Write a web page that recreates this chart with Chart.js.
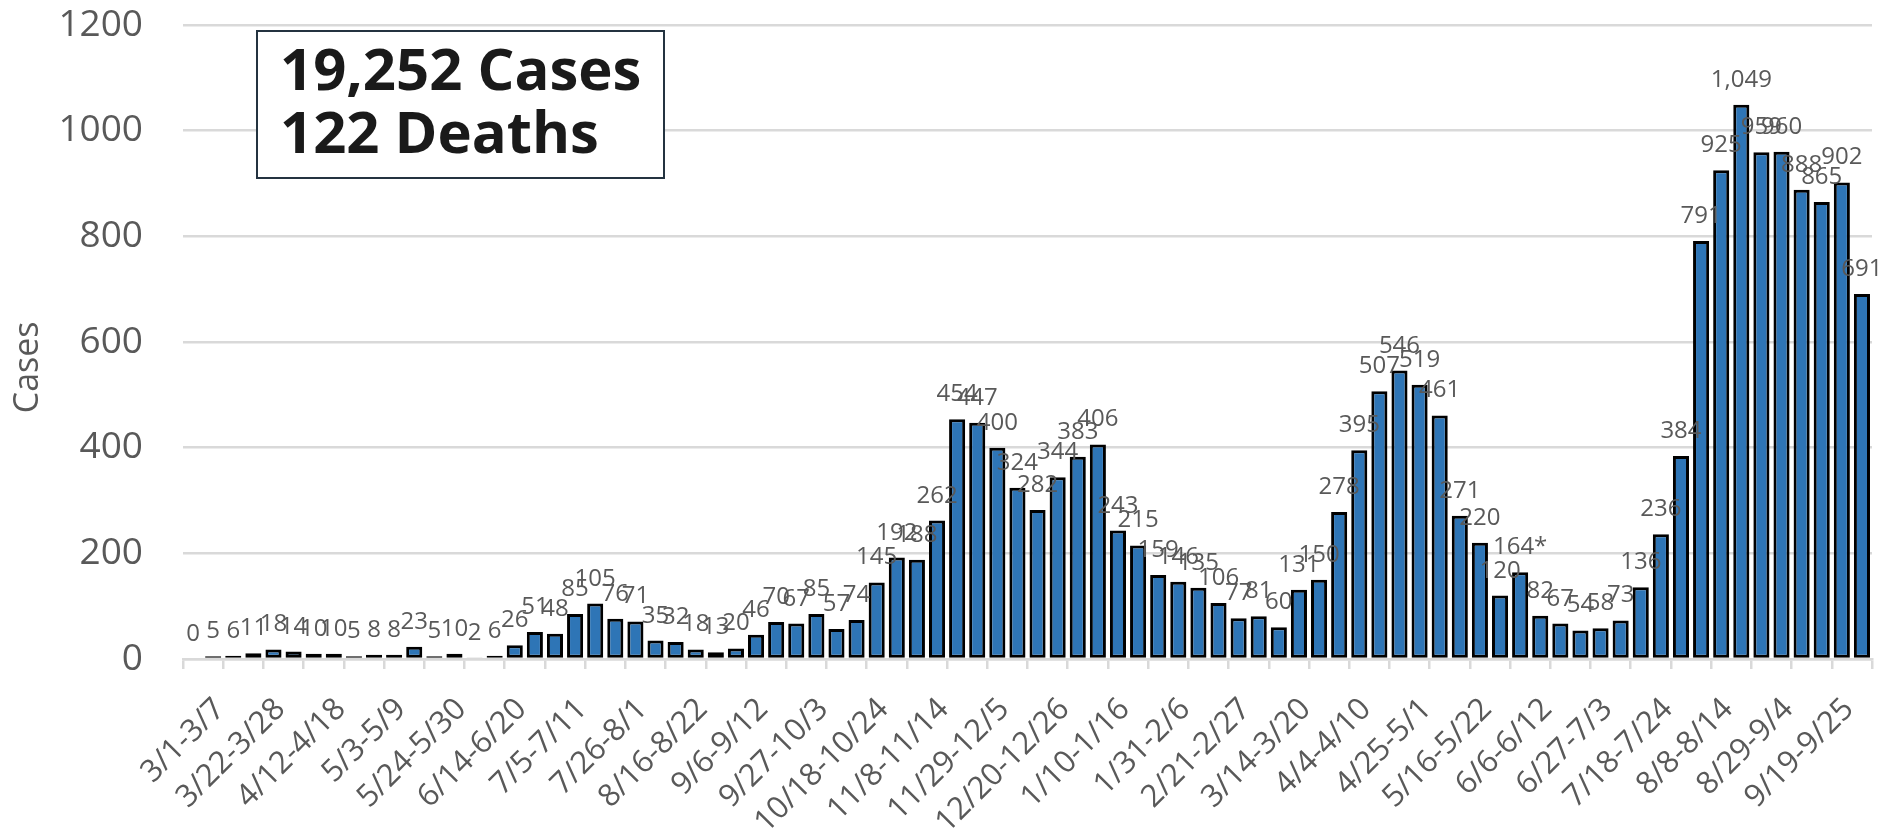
<!DOCTYPE html>
<html lang="en">
<head>
<meta charset="utf-8">
<title>Weekly cases</title>
<script src="https://cdn.jsdelivr.net/npm/chart.js@4.4.1/dist/chart.umd.min.js"></script>
<style>
  html, body { margin: 0; padding: 0; background: #fff; }
  #wrap { width: 1893px; height: 829px; }
</style>
</head>
<body>
<div id="wrap"><canvas id="chartCasos" width="1893" height="829"></canvas></div>
<script>
// ── Data ──────────────────────────────────────────────────────
const weeks = [
    '3/1-3/7', '3/8-3/14', '3/15-3/21', '3/22-3/28', '3/29-4/4', '4/5-4/11',
    '4/12-4/18', '4/19-4/25', '4/26-5/2', '5/3-5/9', '5/10-5/16', '5/17-5/23',
    '5/24-5/30', '5/31-6/6', '6/7-6/13', '6/14-6/20', '6/21-6/27', '6/28-7/4',
    '7/5-7/11', '7/12-7/18', '7/19-7/25', '7/26-8/1', '8/2-8/8', '8/9-8/15',
    '8/16-8/22', '8/23-8/29', '8/30-9/5', '9/6-9/12', '9/13-9/19', '9/20-9/26',
    '9/27-10/3', '10/4-10/10', '10/11-10/17', '10/18-10/24', '10/25-10/31', '11/1-11/7',
    '11/8-11/14', '11/15-11/21', '11/22-11/28', '11/29-12/5', '12/6-12/12', '12/13-12/19',
    '12/20-12/26', '12/27-1/2', '1/3-1/9', '1/10-1/16', '1/17-1/23', '1/24-1/30',
    '1/31-2/6', '2/7-2/13', '2/14-2/20', '2/21-2/27', '2/28-3/6', '3/7-3/13',
    '3/14-3/20', '3/21-3/27', '3/28-4/3', '4/4-4/10', '4/11-4/17', '4/18-4/24',
    '4/25-5/1', '5/2-5/8', '5/9-5/15', '5/16-5/22', '5/23-5/29', '5/30-6/5',
    '6/6-6/12', '6/13-6/19', '6/20-6/26', '6/27-7/3', '7/4-7/10', '7/11-7/17',
    '7/18-7/24', '7/25-7/31', '8/1-8/7', '8/8-8/14', '8/15-8/21', '8/22-8/28',
    '8/29-9/4', '9/5-9/11', '9/12-9/18', '9/19-9/25', '9/26-10/2', '10/3-10/9'
];

const cases = [
    0, 5, 6, 11, 18, 14, 10, 10, 5, 8, 8, 23,
    5, 10, 2, 6, 26, 51, 48, 85, 105, 76, 71, 35,
    32, 18, 13, 20, 46, 70, 67, 85, 57, 74, 145, 192,
    188, 262, 454, 447, 400, 324, 282, 344, 383, 406, 243, 215,
    159, 146, 135, 106, 77, 81, 60, 131, 150, 278, 395, 507,
    546, 519, 461, 271, 220, 120, 164, 82, 67, 54, 58, 73,
    136, 236, 384, 791, 925, 1049, 959, 960, 888, 865, 902, 691
];

const flaggedWeeks = ['6/6-6/12'];          // label carries an asterisk
const yMin = 0, yMax = 1200, yStep = 200;
const yTitle = 'Cases';
const summaryLines = ['19,252 Cases', '122 Deaths'];

const GRIS = '#595959';
const LINEA = '#d9d9d9';
const FUENTE = '"Open Sans", "Noto Sans", sans-serif';

// ── Etiquetas sobre cada barra ────────────────────────────────
const valueLabels = {
    id: 'valueLabels',
    afterDatasetsDraw(chart) {
        const { ctx } = chart;
        const meta = chart.getDatasetMeta(0);
        ctx.save();
        ctx.font = '24px ' + FUENTE;
        ctx.fillStyle = GRIS;
        ctx.textAlign = 'center';
        ctx.textBaseline = 'alphabetic';
        meta.data.forEach((bar, i) => {
            let txt = cases[i].toLocaleString('en-US');
            if (flaggedWeeks.includes(weeks[i])) txt += '*';
            ctx.fillText(txt, bar.x, bar.y - 18);
        });
        ctx.restore();
    }
};

// ── Recuadro de totales y título del eje Y ────────────────────
const summaryBox = {
    id: 'summaryBox',
    afterDraw(chart) {
        const { ctx, chartArea } = chart;
        const x = chartArea.left + 74, y = chartArea.top + 6;
        const w = 407, h = 147;
        ctx.save();
        ctx.fillStyle = '#fff';
        ctx.fillRect(x, y, w, h);
        ctx.strokeStyle = '#243340';
        ctx.lineWidth = 2;
        ctx.strokeRect(x, y, w, h);
        ctx.fillStyle = '#1a1a1a';
        ctx.font = 'bold 58px ' + FUENTE;
        ctx.textAlign = 'left';
        ctx.textBaseline = 'alphabetic';
        ctx.fillText(summaryLines[0], x + 23, y + 59);
        ctx.fillText(summaryLines[1], x + 23, y + 122);

        // título vertical
        const cy = chartArea.top + (chartArea.bottom - chartArea.top) * 0.54;
        ctx.translate(28, cy);
        ctx.rotate(-Math.PI / 2);
        ctx.font = '34px ' + FUENTE;
        ctx.fillStyle = GRIS;
        ctx.textAlign = 'center';
        ctx.textBaseline = 'middle';
        ctx.fillText(yTitle, 0, 0);
        ctx.restore();
    }
};

new Chart(document.getElementById('chartCasos'), {
    type: 'bar',
    data: {
        labels: weeks,
        datasets: [{
            label: yTitle,
            data: cases,
            backgroundColor: '#2E75B6',
            borderColor: '#000',
            borderWidth: 3,
            borderSkipped: false,
            barPercentage: 0.8,
            categoryPercentage: 1
        }]
    },
    options: {
        responsive: false,
        animation: false,
        layout: { padding: { top: 25, right: 21, left: 0, bottom: 0 } },
        plugins: {
            legend: { display: false },
            tooltip: { enabled: false }
        },
        scales: {
            x: {
                afterFit: s => {
                    s.height = 170;
                    s.paddingTop = 0; s.paddingLeft = 0; s.paddingRight = 0;
                },
                border: { color: LINEA, width: 2.5 },
                grid: {
                    drawOnChartArea: false,
                    drawTicks: true,
                    tickLength: 10,
                    lineWidth: 2.5,
                    color: c => (c.index === undefined || c.index % 2 === 0) ? LINEA : 'rgba(0,0,0,0)'
                },
                ticks: {
                    autoSkip: false,
                    minRotation: 45,
                    maxRotation: 45,
                    padding: 22,
                    labelOffset: 27,
                    color: GRIS,
                    font: { family: FUENTE, size: 31 },
                    callback: (v, i) => (i % 3 === 0 ? weeks[i] : '')
                }
            },
            y: {
                min: yMin,
                max: yMax,
                afterFit: s => { s.width = 183; s.paddingTop = 0; s.paddingBottom = 0; },
                border: { display: false },
                grid: { color: LINEA, lineWidth: 2.5, drawTicks: false },
                ticks: {
                    stepSize: yStep,
                    padding: 40,
                    color: GRIS,
                    font: { family: FUENTE, size: 37 },
                    callback: v => String(v)
                }
            }
        }
    },
    plugins: [valueLabels, summaryBox]
});
</script>
</body>
</html>
